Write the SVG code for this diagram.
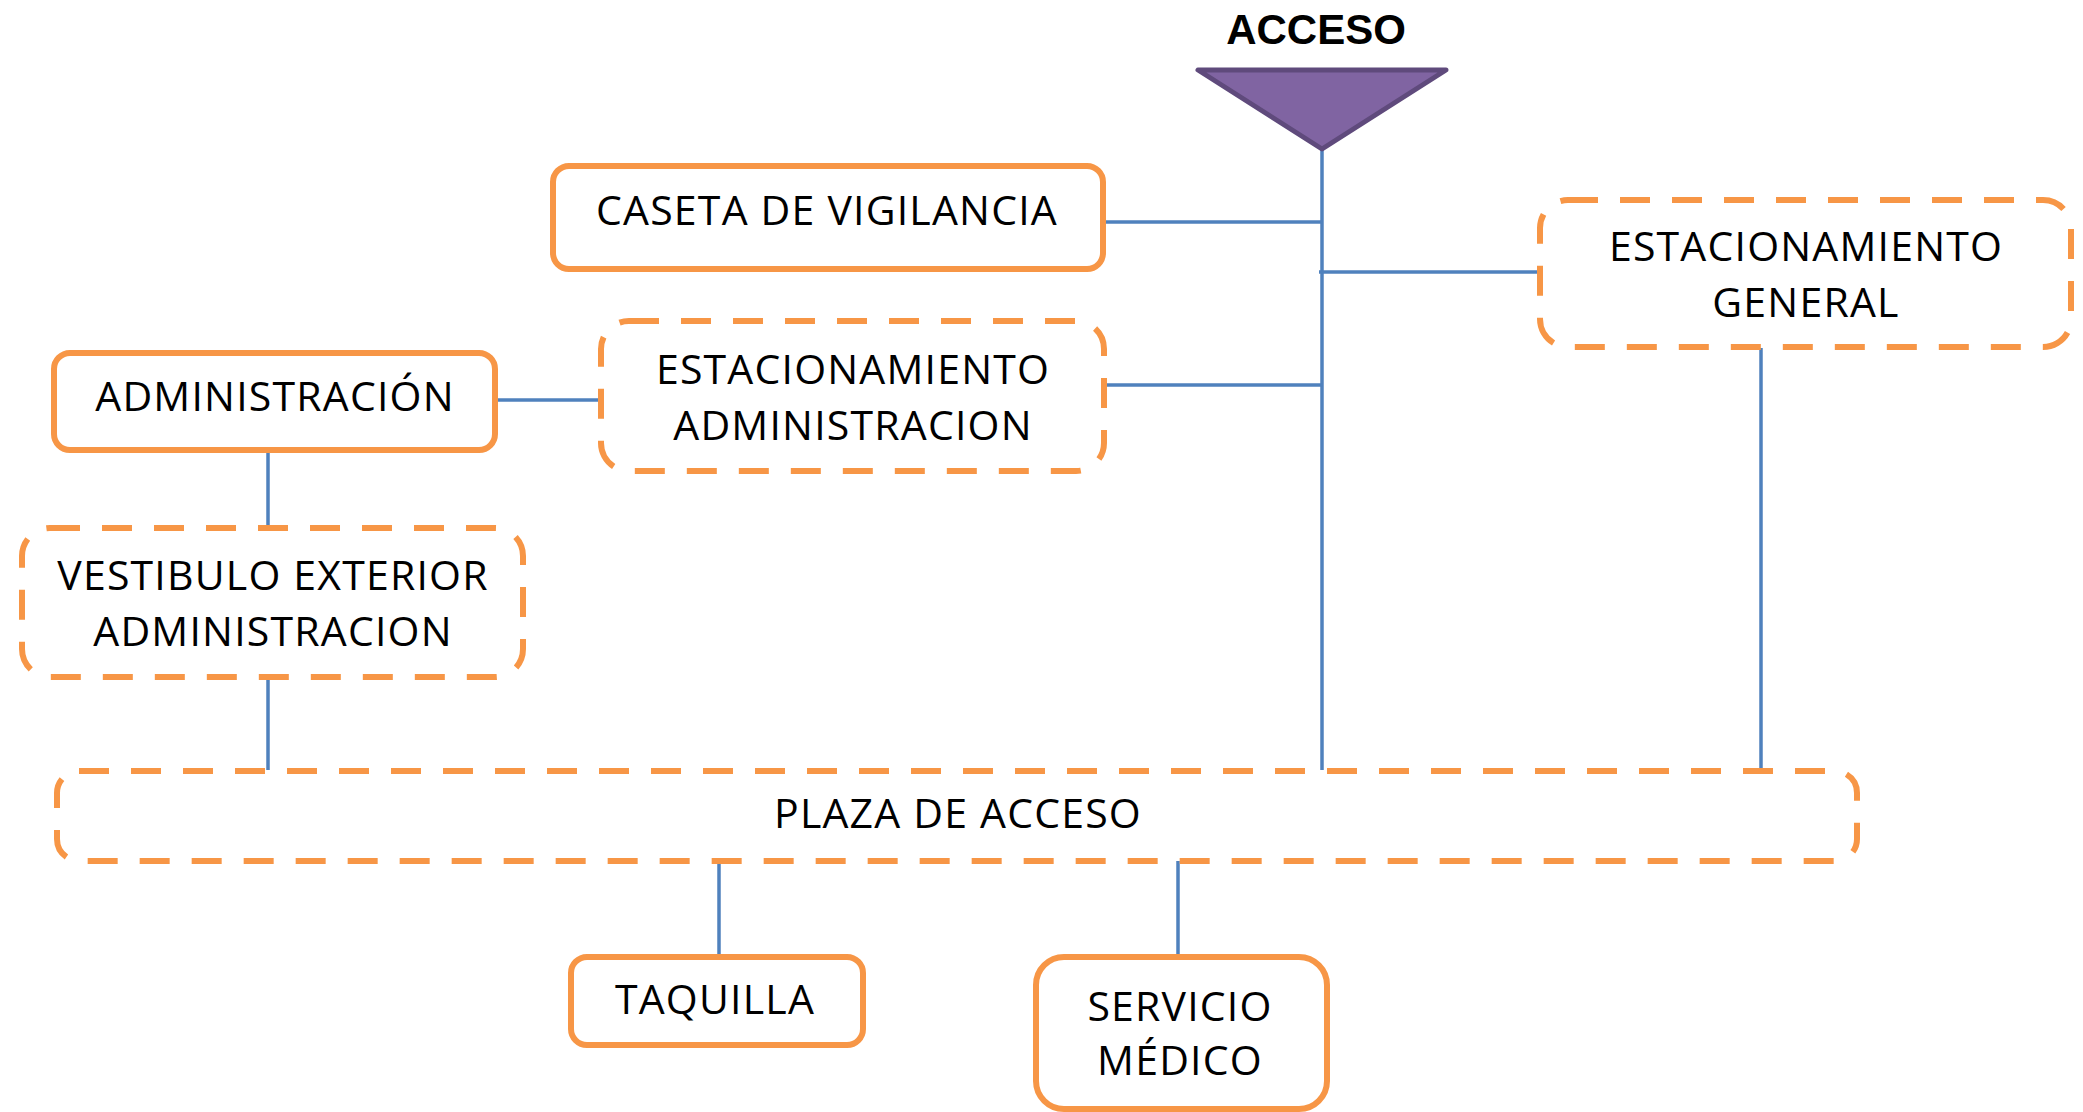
<svg xmlns="http://www.w3.org/2000/svg" width="2083" height="1112" viewBox="0 0 2083 1112">
<style>
.solid{fill:#fff;stroke:#F79646;stroke-width:6}
.dash{fill:#fff;stroke:#F79646;stroke-width:6;stroke-dasharray:30 22}
.lbl{font-family:"Open Sans","Liberation Sans",sans-serif;font-size:41px;letter-spacing:1.2px;fill:#000;text-anchor:middle}
.conn line{stroke:#4F81BD;stroke-width:3.5}
</style>
<rect width="2083" height="1112" fill="#fff"/>
<g id="connectors" class="conn">
<line x1="1322" y1="150" x2="1322" y2="770"/>
<line x1="1103" y1="222" x2="1322" y2="222"/>
<line x1="1319" y1="272" x2="1538" y2="272"/>
<line x1="1104" y1="385" x2="1322" y2="385"/>
<line x1="495" y1="400" x2="600" y2="400"/>
<line x1="268" y1="450" x2="268" y2="527"/>
<line x1="268" y1="677" x2="268" y2="770"/>
<line x1="1761" y1="348" x2="1761" y2="770"/>
<line x1="719" y1="861" x2="719" y2="956"/>
<line x1="1178" y1="861" x2="1178" y2="956"/>
</g>
<g id="acceso">
<text x="1316" y="44" font-family="'Liberation Sans',sans-serif" font-weight="bold" font-size="42" text-anchor="middle">ACCESO</text>
<polygon points="1198,70 1446,70 1322,149" fill="#8064A2" stroke="#5F4A7C" stroke-width="5" stroke-linejoin="round"/>
</g>
<g id="caseta">
<rect class="solid" x="553" y="166" width="550" height="103" rx="16"/>
<text class="lbl" x="827" y="225">CASETA DE VIGILANCIA</text>
</g>
<g id="est-general">
<rect class="dash" x="1540" y="200" width="531" height="147" rx="28"/>
<text class="lbl" x="1806" y="261">ESTACIONAMIENTO</text>
<text class="lbl" x="1806" y="317">GENERAL</text>
</g>
<g id="est-admin">
<rect class="dash" x="601" y="321" width="503" height="150" rx="28"/>
<text class="lbl" x="853" y="384">ESTACIONAMIENTO</text>
<text class="lbl" x="853" y="440">ADMINISTRACION</text>
</g>
<g id="administracion">
<rect class="solid" x="54" y="353" width="441" height="97" rx="16"/>
<text class="lbl" x="275" y="411">ADMINISTRACIÓN</text>
</g>
<g id="vestibulo">
<rect class="dash" x="22" y="528" width="501" height="149" rx="28"/>
<text class="lbl" x="273" y="590">VESTIBULO EXTERIOR</text>
<text class="lbl" x="273" y="646">ADMINISTRACION</text>
</g>
<g id="plaza">
<rect class="dash" x="57" y="771" width="1800" height="90" rx="22"/>
<text class="lbl" x="958" y="828">PLAZA DE ACCESO</text>
</g>
<g id="taquilla">
<rect class="solid" x="571" y="957" width="292" height="88" rx="16"/>
<text class="lbl" x="715" y="1014">TAQUILLA</text>
</g>
<g id="servicio">
<rect class="solid" x="1036" y="957" width="291" height="152" rx="28"/>
<text class="lbl" x="1180" y="1021">SERVICIO</text>
<text class="lbl" x="1180" y="1075">MÉDICO</text>
</g>
</svg>
